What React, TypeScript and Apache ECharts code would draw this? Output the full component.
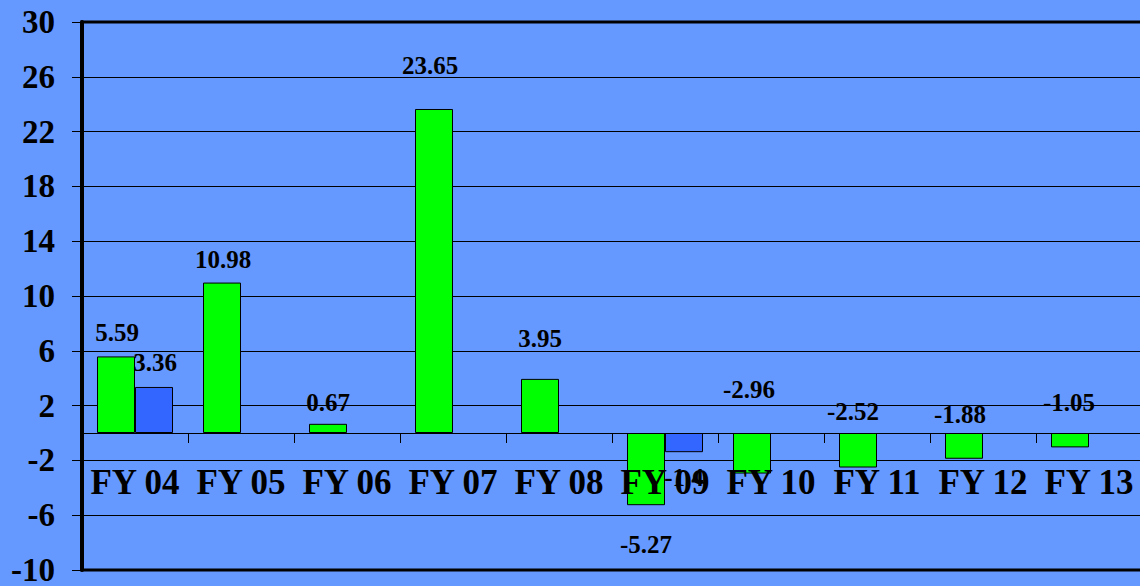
import React, { useEffect, useRef } from 'react';
import * as echarts from 'echarts';

// ---- data ----
const categories = ['FY 04', 'FY 05', 'FY 06', 'FY 07', 'FY 08', 'FY 09', 'FY 10', 'FY 11', 'FY 12', 'FY 13'];
const greenValues = [5.59, 10.98, 0.67, 23.65, 3.95, -5.27, -2.96, -2.52, -1.88, -1.05];
const blueValues: (number | null)[] = [3.36, null, null, null, null, -1.4, null, null, null, null];
const yMin = -10;
const yMax = 30;
const yStep = 4;

// ---- label placement (styling only) ----
type Place = { pos: 'top' | 'bottom'; dx: number; dy: number };
const greenLabelPlace: Place[] = [
  { pos: 'top', dx: 1, dy: -11 },
  { pos: 'top', dx: 1, dy: -11 },
  { pos: 'top', dx: 0, dy: -9 },
  { pos: 'top', dx: -4, dy: -31 },
  { pos: 'top', dx: 0, dy: -28 },
  { pos: 'bottom', dx: 0, dy: 27 },
  { pos: 'top', dx: -3, dy: -31 },
  { pos: 'top', dx: -5, dy: -9 },
  { pos: 'top', dx: -4, dy: -6 },
  { pos: 'top', dx: -1, dy: -18 },
];
const blueLabelPlace: (Place | null)[] = [
  { pos: 'top', dx: 1, dy: -12 },
  null, null, null, null,
  { pos: 'bottom', dx: 0, dy: 13 },
  null, null, null, null,
];

const BG = '#6699FF';
const FONT = '"Liberation Serif", "Times New Roman", serif';
const GRID_TOP = 22;
const GRID_BOTTOM = 16;
const CHART_H = 586;

const labelStyle = {
  show: true,
  color: '#000',
  fontFamily: FONT,
  fontWeight: 'bold' as const,
  fontSize: 25,
  lineHeight: 25,
  distance: 0,
};

function buildData(values: (number | null)[], places: (Place | null)[]) {
  return values.map((v, i) => {
    const p = places[i];
    if (v === null || !p) return { value: v === null ? '-' : v };
    return {
      value: v,
      label: { ...labelStyle, position: p.pos, offset: [p.dx, p.dy] },
    };
  });
}

export default function App() {
  const ref = useRef<HTMLDivElement>(null);
  useEffect(() => {
    document.body.style.margin = '0';
    if (!ref.current) return;
    const chart = echarts.init(ref.current, null, { renderer: 'svg' });
    // lift the category axis from the grid bottom up to the zero line
    const plotH = CHART_H - GRID_TOP - GRID_BOTTOM;
    const zeroLift = (plotH * (0 - yMin)) / (yMax - yMin);
    chart.setOption({
      animation: false,
      backgroundColor: BG,
      grid: {
        left: 82,
        right: -2,
        top: GRID_TOP,
        bottom: GRID_BOTTOM,
        containLabel: false,
        outerBoundsMode: 'none',
        show: true,
        backgroundColor: BG,
        borderColor: '#000',
        borderWidth: 3,
      },
      xAxis: {
        type: 'category',
        data: categories,
        z: 3,
        offset: -zeroLift,
        axisLine: { onZero: false, lineStyle: { color: '#000', width: 1 } },
        axisTick: { show: true, length: 10, lineStyle: { color: '#000', width: 1 } },
        axisLabel: {
          color: '#000',
          fontFamily: FONT,
          fontWeight: 'bold',
          fontSize: 35,
          lineHeight: 35,
          margin: 32,
          interval: 0,
        },
        splitLine: { show: false },
      },
      yAxis: {
        type: 'value',
        min: yMin,
        max: yMax,
        interval: yStep,
        axisLine: { show: true, onZero: false, lineStyle: { color: '#000', width: 4 } },
        axisTick: { show: true, length: 10, lineStyle: { color: '#000', width: 1 } },
        axisLabel: {
          color: '#000',
          fontFamily: FONT,
          fontWeight: 'bold',
          fontSize: 33,
          margin: 27,
        },
        splitLine: { show: true, lineStyle: { color: '#000', width: 1 } },
      },
      series: [
        {
          type: 'bar',
          name: 'A',
          data: buildData(greenValues, greenLabelPlace),
          barWidth: 38,
          barGap: '0%',
          itemStyle: { color: '#00FF00', borderColor: '#000', borderWidth: 1 },
        },
        {
          type: 'bar',
          name: 'B',
          data: buildData(blueValues, blueLabelPlace),
          barWidth: 38,
          barGap: '0%',
          itemStyle: { color: '#3366FF', borderColor: '#000', borderWidth: 1 },
        },
      ],
    });
    return () => chart.dispose();
  }, []);
  return <div ref={ref} style={{ width: 1140, height: 586 }} />;
}
